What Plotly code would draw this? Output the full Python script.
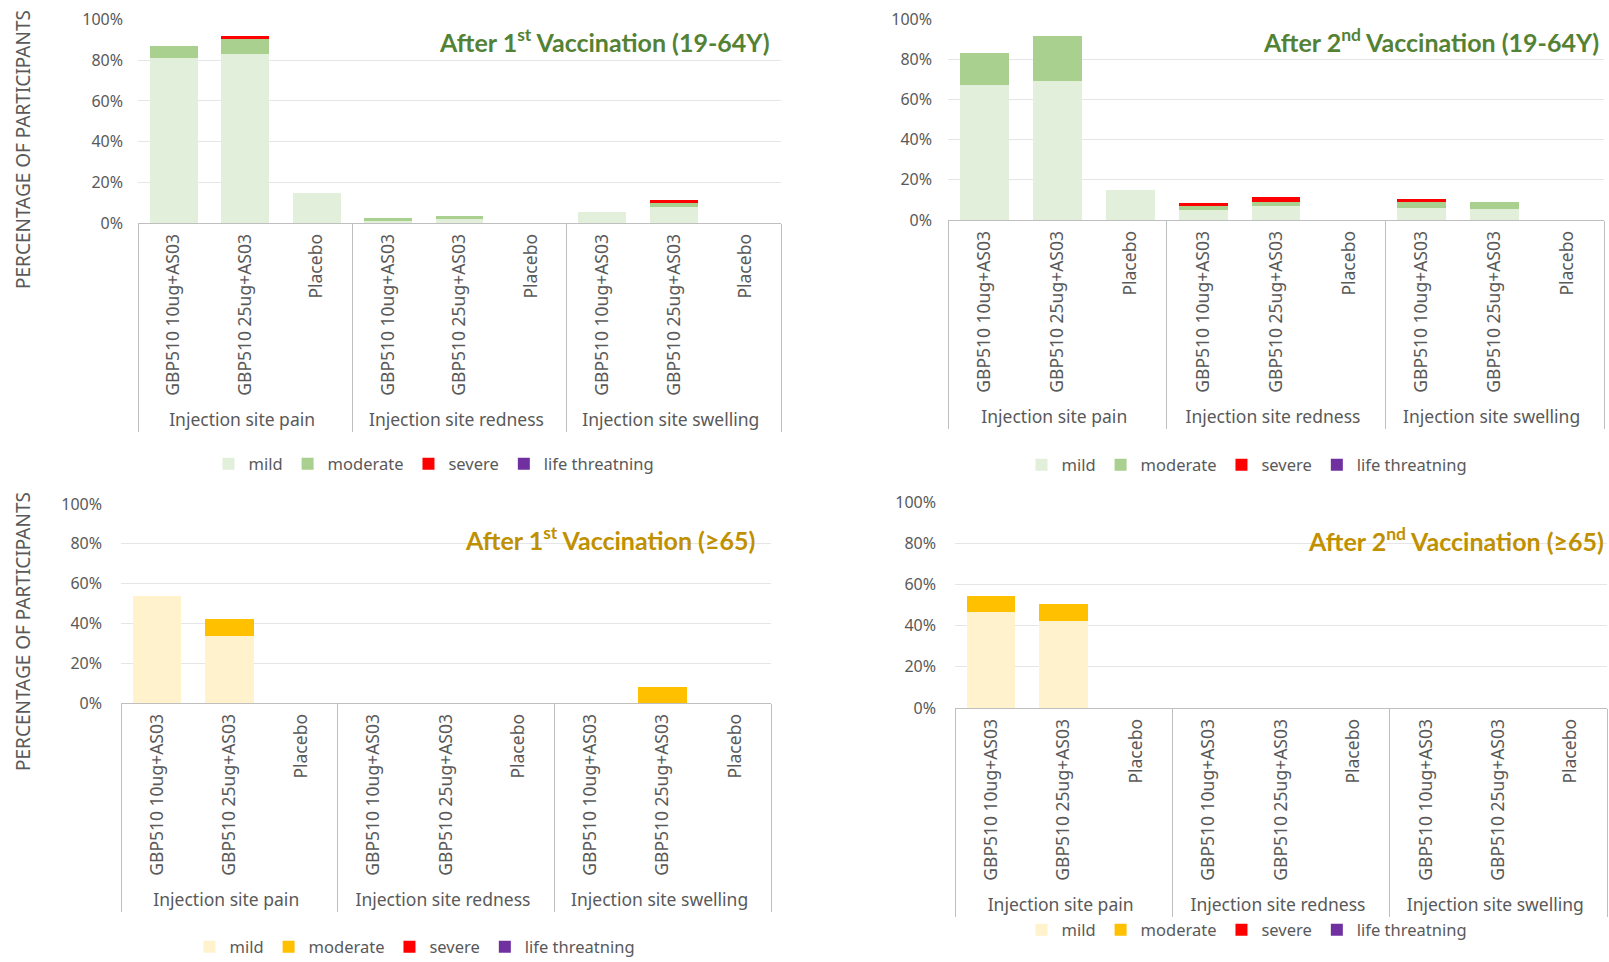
import plotly.graph_objects as go

W, H = 1609, 962

# categories
groups = ["Injection site pain", "Injection site redness", "Injection site swelling"]
arms = ["GBP510 10ug+AS03", "GBP510 25ug+AS03", "Placebo"]
levels = ["mild", "moderate", "severe", "life threatning"]

# After 1st vaccination, 19-64Y (% of participants)
d1_mild = [81, 83, 14.5, 1.2, 2.2, 0, 5.5, 7.7, 0]
d1_moderate = [6, 7.5, 0, 1.1, 1.0, 0, 0, 2.0, 0]
d1_severe = [0, 1.3, 0, 0, 0, 0, 0, 1.5, 0]
d1_life = [0, 0, 0, 0, 0, 0, 0, 0, 0]

# After 2nd vaccination, 19-64Y
d2_mild = [67, 69, 14.8, 5.0, 7.2, 0, 6.0, 5.5, 0]
d2_moderate = [16, 22.5, 0, 1.8, 1.8, 0, 3.0, 3.5, 0]
d2_severe = [0, 0, 0, 1.5, 2.5, 0, 1.5, 0, 0]
d2_life = [0, 0, 0, 0, 0, 0, 0, 0, 0]

# After 1st vaccination, >=65
d3_mild = [54, 33.5, 0, 0, 0, 0, 0, 0, 0]
d3_moderate = [0, 8.5, 0, 0, 0, 0, 0, 8.0, 0]
d3_severe = [0, 0, 0, 0, 0, 0, 0, 0, 0]
d3_life = [0, 0, 0, 0, 0, 0, 0, 0, 0]

# After 2nd vaccination, >=65
d4_mild = [46.5, 42, 0, 0, 0, 0, 0, 0, 0]
d4_moderate = [8, 8.5, 0, 0, 0, 0, 0, 0, 0]
d4_severe = [0, 0, 0, 0, 0, 0, 0, 0, 0]
d4_life = [0, 0, 0, 0, 0, 0, 0, 0, 0]

y_ticks = [0, 20, 40, 60, 80, 100]
y_labels = ["0%", "20%", "40%", "60%", "80%", "100%"]

green = ["#E2EFDA", "#A9D08E", "#FF0000", "#7030A0"]
gold = ["#FFF2CC", "#FFC000", "#FF0000", "#7030A0"]

xcats = [[g for g in groups for _ in arms], arms * len(groups)]


def px(x):
    return x / W


def py(y):
    return 1 - y / H


# panel layout in pixels: plot left, right, top(100%), bottom(0%)
panels = [
    dict(sfx="", data=[d1_mild, d1_moderate, d1_severe, d1_life], colors=green,
         box=(138, 781, 19.5, 223), title="After 1<sup>st</sup> Vaccination (19-64Y)",
         tcolor="#548235", tpos=(772, 40), leg=(434, 464), standoff=14),
    dict(sfx="2", data=[d2_mild, d2_moderate, d2_severe, d2_life], colors=green,
         box=(948, 1604, 19, 220), title="After 2<sup>nd</sup> Vaccination (19-64Y)",
         tcolor="#548235", tpos=(1601, 41), leg=(1247, 465), standoff=15),
    dict(sfx="3", data=[d3_mild, d3_moderate, d3_severe, d3_life], colors=gold,
         box=(121, 771, 504, 703), title="After 1<sup>st</sup> Vaccination (≥65)",
         tcolor="#BF9000", tpos=(757, 538), leg=(415, 947), standoff=18),
    dict(sfx="4", data=[d4_mild, d4_moderate, d4_severe, d4_life], colors=gold,
         box=(955, 1607, 502, 708), title="After 2<sup>nd</sup> Vaccination (≥65)",
         tcolor="#BF9000", tpos=(1606, 539), leg=(1247, 930), standoff=18),
]

font = "Noto Sans"
gray = "#595959"

fig = go.Figure()
layout = {}
annotations = []
for p in panels:
    s = p["sfx"]
    for name, vals, col in zip(levels, p["data"], p["colors"]):
        fig.add_trace(go.Bar(
            x=xcats, y=vals, name=name,
            marker=dict(color=col, line=dict(width=0)),
            xaxis="x" + s, yaxis="y" + s, legend="legend" + s,
        ))
    l, r, t, b = p["box"]
    layout["xaxis" + s] = dict(
        type="multicategory", domain=[px(l), px(r)], anchor="y" + s,
        tickangle=-90, showdividers=True, dividercolor="#BFBFBF", dividerwidth=1,
        showline=True, linecolor="#BFBFBF", linewidth=1, ticks="", automargin=False,
        ticklabelstandoff=3, tickfont=dict(family=font, size=17.5, color=gray),
        showgrid=False,
    )
    layout["yaxis" + s] = dict(
        domain=[py(b), py(t)], anchor="x" + s, range=[0, 100],
        tickmode="array", tickvals=y_ticks, ticktext=y_labels,
        showgrid=True, gridcolor="#E6E6E6", automargin=False, ticklabeloverflow="allow",
        zeroline=False, showline=False, ticks="", ticklabelstandoff=p["standoff"],
        tickfont=dict(family=font, size=16, color=gray),
    )
    layout["legend" + s] = dict(
        orientation="h", x=px(p["leg"][0]), y=py(p["leg"][1]),
        xanchor="center", yanchor="middle", font=dict(family=font, size=16.5, color=gray),
        bgcolor="rgba(0,0,0,0)", itemwidth=30, traceorder="normal",
    )
    annotations.append(dict(
        text="<b>" + p["title"] + "</b>", xref="paper", yref="paper",
        x=px(p["tpos"][0]), y=py(p["tpos"][1]), xanchor="right", yanchor="middle",
        showarrow=False, font=dict(family="Lato", size=25, color=p["tcolor"]),
    ))

for yc in (150, 632):
    annotations.append(dict(
        text="PERCENTAGE OF PARTICIPANTS", xref="paper", yref="paper",
        x=px(23), y=py(yc), xanchor="center", yanchor="middle", textangle=-90,
        showarrow=False, font=dict(family=font, size=19, color=gray),
    ))

fig.update_layout(
    width=W, height=H, margin=dict(l=0, r=0, t=0, b=0, autoexpand=False),
    paper_bgcolor="white", plot_bgcolor="white",
    barmode="stack", bargap=0.33, annotations=annotations, **layout,
)

# drop the default page margin so the 1609x962 figure fills the window exactly
fig.write_html("out.html", config={"displayModeBar": False},
               post_script="document.body.style.margin='0px';")
